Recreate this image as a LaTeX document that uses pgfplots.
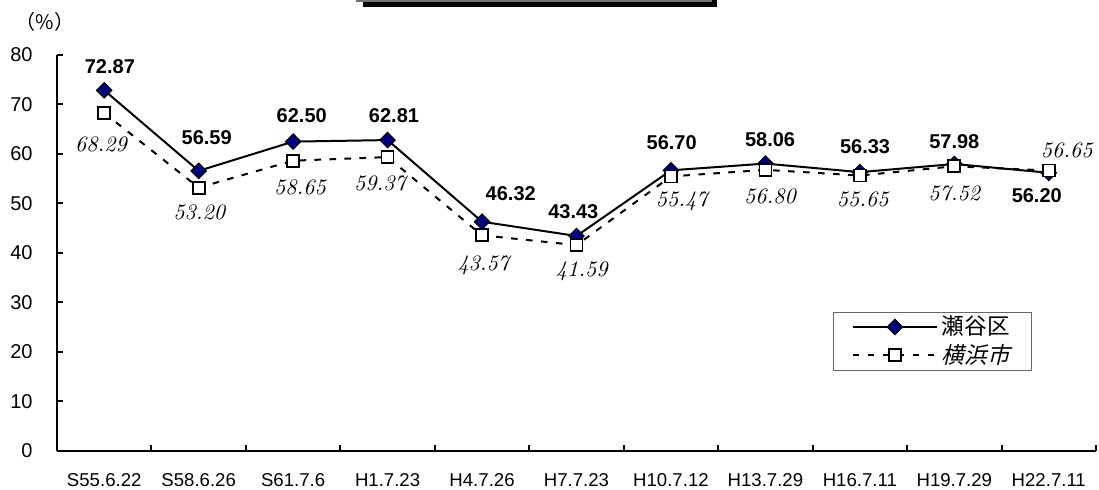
\documentclass[border=0pt]{standalone}
\usepackage{fontspec}
\usepackage{pgfplots}
\usepackage{pgfplotstable}
\pgfplotsset{compat=1.18}
\setmainfont{Liberation Sans}
\newfontfamily\cjk{Noto Sans CJK JP}
\newfontfamily\cjkit[FakeSlant=0.25]{Noto Sans CJK JP}
\newfontfamily\lm{Latin Modern Roman}
\definecolor{navy}{HTML}{000080}

\pgfplotstableread{
x seya yoko
0 72.87 68.29
1 56.59 53.20
2 62.50 58.65
3 62.81 59.37
4 46.32 43.57
5 43.43 41.59
6 56.70 55.47
7 58.06 56.80
8 56.33 55.65
9 57.98 57.52
10 56.20 56.65
}\data

\begin{document}
\begin{tikzpicture}
\begin{axis}[
  at={(0pt,0pt)}, anchor=south west,
  scale only axis, width=519.5pt, height=198pt,
  xmin=-0.5, xmax=10.5, ymin=0, ymax=80,
  clip=false,
  axis lines=left,
  axis line style={line width=1.1pt, -},
  tick align=inside,
  major tick length=3pt,
  tick style={black, line width=1pt},
  xtick={-0.5,0.5,1.5,2.5,3.5,4.5,5.5,6.5,7.5,8.5,9.5,10.5},
  x tick label as interval,
  xticklabels={S55.6.22,S58.6.26,S61.7.6,H1.7.23,H4.7.26,H7.7.23,H10.7.12,H13.7.29,H16.7.11,H19.7.29,H22.7.11},
  ytick={0,10,...,80},
  /pgf/number format/assume math mode=true,
  xticklabel style={font=\fontsize{9.3}{10}\selectfont, inner sep=0pt, anchor=base, yshift=-18pt},
  yticklabel style={font=\fontsize{10}{11}\selectfont, inner sep=0pt, anchor=east, xshift=-12pt},
  legend style={at={(axis cs:7.719,28.14)}, anchor=north west,
    draw=black!60, line width=0.5pt,
    font=\fontsize{11.3}{13}\selectfont\cjk,
    inner xsep=9pt, inner ysep=0.3pt, row sep=0pt,
    nodes={inner ysep=1.6pt, inner xsep=2pt}},
  legend cell align=left,
  legend image code/.code={\draw[mark repeat=2,mark phase=2,#1] plot coordinates {(0pt,0pt) (21pt,0pt) (42pt,0pt)};},
]
\addplot[black, line width=1pt, mark=square*, mark size=2.7pt,
  mark options={solid, rotate=45, fill=navy, draw=black, line width=0.6pt}]
  table[x=x,y=seya]{\data};
\addlegendentry{瀬谷区}
\addplot[black, line width=1pt, dash pattern=on 3.3pt off 4.2pt, mark=square*, mark size=3pt,
  mark options={solid, fill=white, draw=black, line width=0.9pt}]
  table[x=x,y=yoko]{\data};
\addlegendentry{\cjkit 横浜市}

\begin{scope}[every node/.style={font=\fontsize{10}{11}\selectfont\bfseries}]
\node at (axis cs:0.06,77.6) {72.87};
\node at (axis cs:1.085,63.3) {56.59};
\node at (axis cs:2.091,67.7) {62.50};
\node at (axis cs:3.068,67.7) {62.81};
\node at (axis cs:4.304,51.9) {46.32};
\node at (axis cs:4.966,48.3) {43.43};
\node at (axis cs:6.008,62.3) {56.70};
\node at (axis cs:7.049,63.0) {58.06};
\node at (axis cs:8.055,61.5) {56.33};
\node at (axis cs:9.0,62.6) {57.98};
\node at (axis cs:9.873,51.5) {56.20};
\end{scope}
\begin{scope}[every node/.style={font=\fontsize{11}{12}\selectfont\lm\itshape}]
\node at (axis cs:-0.034,62.0) {68.29};
\node at (axis cs:1.007,48.1) {53.20};
\node at (axis cs:2.073,53.3) {58.65};
\node at (axis cs:2.92,54.1) {59.37};
\node at (axis cs:4.014,37.6) {43.57};
\node at (axis cs:5.055,36.2) {41.59};
\node at (axis cs:6.114,50.4) {55.47};
\node at (axis cs:7.049,51.4) {56.80};
\node at (axis cs:8.03,50.8) {55.65};
\node at (axis cs:9.0,52.1) {57.52};
\node at (axis cs:10.19,60.8) {56.65};
\end{scope}
\end{axis}
% title box fragment (cut off at top)
\fill[black] (153pt,222pt) rectangle (330pt,225.5pt);
\draw[black!55, line width=0.8pt] (150pt,225.5pt) -- (150pt,225pt) -- (327pt,225pt) -- (327pt,225.5pt);
\node[font=\fontsize{10}{11}\selectfont\cjk] at (-6pt,214.75pt) {（\%）};
\pgfresetboundingbox
\useasboundingbox (-28.5pt,-19.5pt) rectangle (521pt,225.5pt);
\end{tikzpicture}
\end{document}
